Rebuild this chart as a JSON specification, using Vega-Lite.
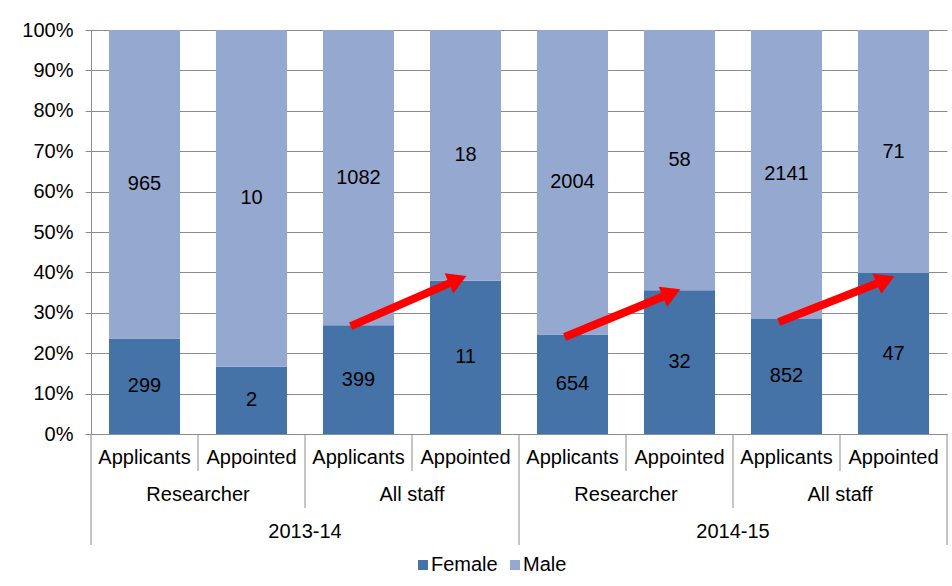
{
  "$schema": "https://vega.github.io/schema/vega-lite/v6.json",
  "padding": {"left": 21, "top": 20, "right": 4, "bottom": 4},
  "spacing": 0,
  "bounds": "flush",
  "config": {
    "font": "Liberation Sans",
    "view": {"stroke": null},
    "axis": {"labelFont": "Liberation Sans", "labelFontSize": 20, "labelColor": "#000000", "domainColor": "#8c8c8c", "tickColor": "#8c8c8c", "gridColor": "#8c8c8c", "gridOpacity": 1}
  },
  "datasets": {
    "bars": [
      {"id": "2013-14|Researcher|Applicants", "sex": "Female", "count": 299},
      {"id": "2013-14|Researcher|Applicants", "sex": "Male", "count": 965},
      {"id": "2013-14|Researcher|Appointed", "sex": "Female", "count": 2},
      {"id": "2013-14|Researcher|Appointed", "sex": "Male", "count": 10},
      {"id": "2013-14|All staff|Applicants", "sex": "Female", "count": 399},
      {"id": "2013-14|All staff|Applicants", "sex": "Male", "count": 1082},
      {"id": "2013-14|All staff|Appointed", "sex": "Female", "count": 11},
      {"id": "2013-14|All staff|Appointed", "sex": "Male", "count": 18},
      {"id": "2014-15|Researcher|Applicants", "sex": "Female", "count": 654},
      {"id": "2014-15|Researcher|Applicants", "sex": "Male", "count": 2004},
      {"id": "2014-15|Researcher|Appointed", "sex": "Female", "count": 32},
      {"id": "2014-15|Researcher|Appointed", "sex": "Male", "count": 58},
      {"id": "2014-15|All staff|Applicants", "sex": "Female", "count": 852},
      {"id": "2014-15|All staff|Applicants", "sex": "Male", "count": 2141},
      {"id": "2014-15|All staff|Appointed", "sex": "Female", "count": 47},
      {"id": "2014-15|All staff|Appointed", "sex": "Male", "count": 71}
    ],
    "arrows": [
      {"from": "2013-14|All staff|Applicants", "to": "2013-14|All staff|Appointed", "ys": 0.267, "ye": 0.382},
      {"from": "2014-15|Researcher|Applicants", "to": "2014-15|Researcher|Appointed", "ys": 0.240, "ye": 0.349},
      {"from": "2014-15|All staff|Applicants", "to": "2014-15|All staff|Appointed", "ys": 0.277, "ye": 0.381}
    ],
    "labels": [
      {"level": 1, "first": "2013-14|Researcher|Applicants", "last": "2013-14|Researcher|Applicants", "label": "Applicants"},
      {"level": 1, "first": "2013-14|Researcher|Appointed", "last": "2013-14|Researcher|Appointed", "label": "Appointed"},
      {"level": 1, "first": "2013-14|All staff|Applicants", "last": "2013-14|All staff|Applicants", "label": "Applicants"},
      {"level": 1, "first": "2013-14|All staff|Appointed", "last": "2013-14|All staff|Appointed", "label": "Appointed"},
      {"level": 1, "first": "2014-15|Researcher|Applicants", "last": "2014-15|Researcher|Applicants", "label": "Applicants"},
      {"level": 1, "first": "2014-15|Researcher|Appointed", "last": "2014-15|Researcher|Appointed", "label": "Appointed"},
      {"level": 1, "first": "2014-15|All staff|Applicants", "last": "2014-15|All staff|Applicants", "label": "Applicants"},
      {"level": 1, "first": "2014-15|All staff|Appointed", "last": "2014-15|All staff|Appointed", "label": "Appointed"},
      {"level": 2, "first": "2013-14|Researcher|Applicants", "last": "2013-14|Researcher|Appointed", "label": "Researcher"},
      {"level": 2, "first": "2013-14|All staff|Applicants", "last": "2013-14|All staff|Appointed", "label": "All staff"},
      {"level": 2, "first": "2014-15|Researcher|Applicants", "last": "2014-15|Researcher|Appointed", "label": "Researcher"},
      {"level": 2, "first": "2014-15|All staff|Applicants", "last": "2014-15|All staff|Appointed", "label": "All staff"},
      {"level": 3, "first": "2013-14|Researcher|Applicants", "last": "2013-14|All staff|Appointed", "label": "2013-14"},
      {"level": 3, "first": "2014-15|Researcher|Applicants", "last": "2014-15|All staff|Appointed", "label": "2014-15"}
    ],
    "seps": [
      {"id": "2013-14|Researcher|Applicants", "depth": 3, "edge": "start"},
      {"id": "2013-14|Researcher|Appointed", "depth": 1, "edge": "start"},
      {"id": "2013-14|All staff|Applicants", "depth": 2, "edge": "start"},
      {"id": "2013-14|All staff|Appointed", "depth": 1, "edge": "start"},
      {"id": "2014-15|Researcher|Applicants", "depth": 3, "edge": "start"},
      {"id": "2014-15|Researcher|Appointed", "depth": 1, "edge": "start"},
      {"id": "2014-15|All staff|Applicants", "depth": 2, "edge": "start"},
      {"id": "2014-15|All staff|Appointed", "depth": 1, "edge": "start"},
      {"id": "2014-15|All staff|Appointed", "depth": 3, "edge": "end"}
    ]
  },
  "vconcat": [
    {
      "width": 856,
      "height": 404,
      "layer": [
        {
          "data": {"name": "bars"},
          "transform": [{"stack": "count", "groupby": ["id"], "offset": "normalize", "sort": [{"field": "sex", "order": "ascending"}], "as": ["y0", "y1"]}],
          "mark": {"type": "bar"},
          "encoding": {
            "x": {"field": "id", "type": "nominal", "sort": null,
              "scale": {"domain": ["2013-14|Researcher|Applicants", "2013-14|Researcher|Appointed", "2013-14|All staff|Applicants", "2013-14|All staff|Appointed", "2014-15|Researcher|Applicants", "2014-15|Researcher|Appointed", "2014-15|All staff|Applicants", "2014-15|All staff|Appointed"], "paddingInner": 0.336, "paddingOuter": 0.168},
              "axis": {"labels": false, "ticks": false, "title": null, "domain": true, "grid": false, "minExtent": 0, "maxExtent": 0, "offset": 0}},
            "y": {"field": "y0", "type": "quantitative", "scale": {"domain": [0, 1]},
              "axis": {"values": [0, 0.1, 0.2, 0.3, 0.4, 0.5, 0.6, 0.7, 0.8, 0.9, 1], "format": ".0%", "title": null, "tickSize": 6, "labelPadding": 12, "grid": true}},
            "y2": {"field": "y1"},
            "color": {"field": "sex", "type": "nominal",
              "scale": {"domain": ["Female", "Male"], "range": ["#4572a7", "#95a9d0"]},
              "legend": {"title": null, "orient": "none", "legendX": 322, "legendY": 525, "direction": "horizontal", "symbolType": "square", "symbolSize": 100, "symbolStrokeWidth": 0, "labelFontSize": 20, "labelColor": "#000000", "columnPadding": 7, "labelOffset": -2, "padding": 0}}
          }
        },
        {
          "data": {"name": "bars"},
          "transform": [
            {"stack": "count", "groupby": ["id"], "offset": "normalize", "sort": [{"field": "sex", "order": "ascending"}], "as": ["y0", "y1"]},
            {"fold": ["y0", "y1"], "as": ["edge", "v"]},
            {"aggregate": [{"op": "mean", "field": "v", "as": "ymid"}, {"op": "max", "field": "count", "as": "count"}], "groupby": ["id", "sex"]}
          ],
          "mark": {"type": "text", "fontSize": 20, "color": "#000000"},
          "encoding": {
            "x": {"field": "id", "type": "nominal"},
            "y": {"field": "ymid", "type": "quantitative"},
            "text": {"field": "count", "type": "quantitative", "format": "d"}
          }
        },
        {
          "data": {"name": "arrows"},
          "mark": {"type": "rule", "color": "#ff0000", "strokeWidth": 8, "strokeCap": "butt"},
          "encoding": {
            "x": {"field": "from", "type": "nominal", "bandPosition": 0.39},
            "x2": {"field": "to", "bandPosition": 0.39},
            "y": {"field": "ys", "type": "quantitative"},
            "y2": {"field": "ye"}
          }
        },
        {
          "data": {"name": "arrows"},
          "mark": {"type": "point", "shape": "triangle-right", "angle": -23, "size": 480, "filled": true, "color": "#ff0000", "opacity": 1, "strokeWidth": 0},
          "encoding": {
            "x": {"field": "to", "type": "nominal", "bandPosition": 0.39},
            "y": {"field": "ye", "type": "quantitative"}
          }
        }
      ]
    },
    {
      "width": 856,
      "height": 111,
      "resolve": {"scale": {"y": "independent"}},
      "layer": [
        {
          "data": {"name": "labels"},
          "transform": [{"filter": "datum.level == 1"}],
          "mark": {"type": "text", "fontSize": 20, "color": "#000000", "dy": 5},
          "encoding": {
            "x": {"field": "first", "type": "nominal", "bandPosition": 0.5,
              "scale": {"domain": ["2013-14|Researcher|Applicants", "2013-14|Researcher|Appointed", "2013-14|All staff|Applicants", "2013-14|All staff|Appointed", "2014-15|Researcher|Applicants", "2014-15|Researcher|Appointed", "2014-15|All staff|Applicants", "2014-15|All staff|Appointed"], "paddingInner": 0, "paddingOuter": 0},
              "axis": null},
            "y": {"field": "level", "type": "ordinal", "scale": {"domain": [1, 2, 3]}, "axis": null},
            "text": {"field": "label"}
          }
        },
        {
          "data": {"name": "labels"},
          "transform": [{"filter": "datum.level == 2"}],
          "mark": {"type": "text", "fontSize": 20, "color": "#000000", "dy": 5},
          "encoding": {
            "x": {"field": "first", "type": "nominal", "bandPosition": 1},
            "y": {"field": "level", "type": "ordinal", "scale": {"domain": [1, 2, 3]}, "axis": null},
            "text": {"field": "label"}
          }
        },
        {
          "data": {"name": "labels"},
          "transform": [{"filter": "datum.level == 3"}],
          "mark": {"type": "text", "fontSize": 20, "color": "#000000", "dy": 5},
          "encoding": {
            "x": {"field": "first", "type": "nominal", "bandPosition": 2},
            "y": {"field": "level", "type": "ordinal", "scale": {"domain": [1, 2, 3]}, "axis": null},
            "text": {"field": "label"}
          }
        },
        {
          "layer": [
            {
              "data": {"name": "seps"},
              "transform": [{"filter": "datum.edge == 'start'"}],
              "mark": {"type": "rule", "color": "#8c8c8c", "strokeWidth": 1},
              "encoding": {
                "x": {"field": "id", "type": "nominal", "bandPosition": 0},
                "y": {"field": "depth", "type": "quantitative", "scale": {"domain": [0, 3], "reverse": true}, "axis": null},
                "y2": {"datum": 0}
              }
            },
            {
              "data": {"name": "seps"},
              "transform": [{"filter": "datum.edge == 'end'"}],
              "mark": {"type": "rule", "color": "#8c8c8c", "strokeWidth": 1},
              "encoding": {
                "x": {"field": "id", "type": "nominal", "bandPosition": 1},
                "y": {"field": "depth", "type": "quantitative", "axis": null},
                "y2": {"datum": 0}
              }
            }
          ]
        }
      ]
    }
  ]
}
